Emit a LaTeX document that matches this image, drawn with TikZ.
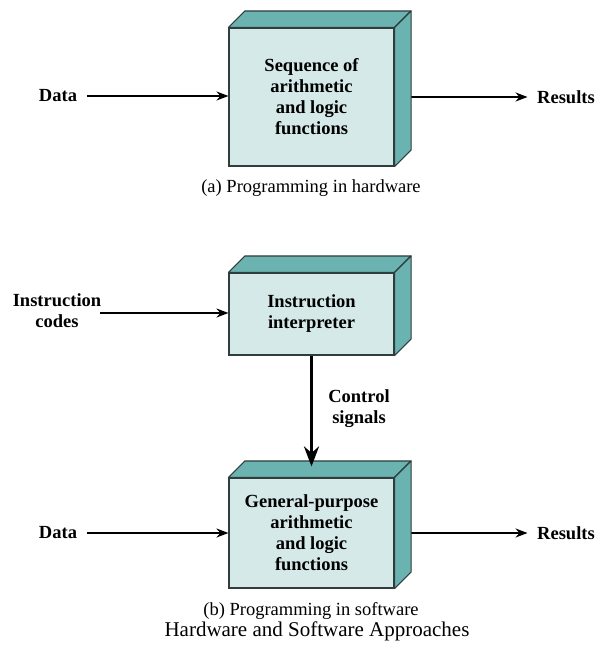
\documentclass[tikz,border=0pt]{standalone}
\usepackage{fontspec}
\setmainfont{Liberation Serif}
\usetikzlibrary{arrows.meta}
\definecolor{facefront}{HTML}{D4E9E8}
\definecolor{faceside}{HTML}{6AB3B1}
\definecolor{edgegray}{HTML}{2F3D3D}

\begin{document}
\begin{tikzpicture}
  [x=1pt,y=-1pt,
   every node/.style={font=\fontsize{18.5}{21}\selectfont\bfseries,align=center,inner sep=9.5pt},
   front/.style={rectangle,draw=edgegray,line width=1.1pt,fill=facefront,minimum width=165pt,inner sep=0pt},
   face/.style={draw=edgegray,line width=1.1pt,fill=faceside,line join=round},
   flow/.style={line width=1.9pt,-{Stealth[length=12pt,width=9pt]}},
   caption/.style={font=\fontsize{18.5}{21}\selectfont}]
  \useasboundingbox (0,0) rectangle (614,656);

  \node[front,minimum height=138pt] (seq) at (311.5,97) {Sequence of\\arithmetic\\and logic\\functions};
  \node[front,minimum height=82pt] (interp) at (311.5,314) {Instruction\\interpreter};
  \node[front,minimum height=110pt] (gen) at (311.5,533) {General-purpose\\arithmetic\\and logic\\functions};

  \node (data1) at (58,96) {Data};
  \node (res1) at (566,97) {Results};
  \node[caption] (capa) at (311,188) {(a) Programming in hardware};
  \node (icode) at (57,311) {Instruction\\codes};
  \coordinate (icin) at (100,313);
  \node (ctrl) at (359,409) {Control\\signals};
  \node (data2) at (58,533) {Data};
  \node (res2) at (566,533) {Results};
  \node[caption] (capb) at (311,611) {(b) Programming in software};
  \node[font=\fontsize{21}{24}\selectfont] (title) at (317,631) {Hardware and Software Approaches};

  \draw[flow] (data1.east) -- (data1.east -| seq.west);
  \draw[flow] (seq.east) -- (seq.east -| res1.west);
  \draw[flow] (icin) -- (icin -| interp.west);
  \draw[flow] (data2.east) -- (data2.east -| gen.west);
  \draw[flow] (gen.east) -- (gen.east -| res2.west);

  \foreach \b in {seq,interp,gen} {
    \draw[face] (\b.north west) -- ++(16.5,-16.5) -- ([shift={(16.5,-16.5)}]\b.north east) -- (\b.north east) -- cycle;
    \draw[face] (\b.north east) -- ++(16.5,-16.5) -- ([shift={(16.5,-16.5)}]\b.south east) -- (\b.south east) -- cycle;
  }

  \draw[line width=3.5pt,-{Stealth[length=20pt,width=15pt]}] (interp.south) -- ([yshift=11pt]gen.north);

\end{tikzpicture}
\end{document}
